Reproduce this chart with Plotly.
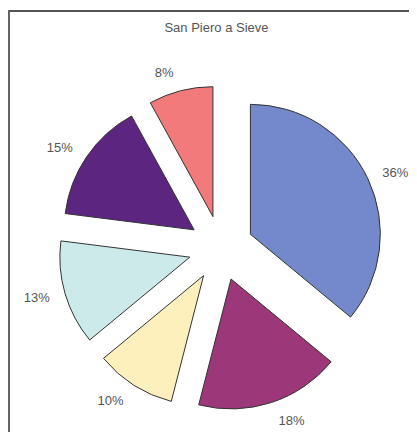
import plotly.graph_objects as go

labels = ["A", "B", "C", "D", "E", "F"]
shares = [36, 18, 10, 13, 15, 8]
colors = ["#7389CB", "#9C3779", "#FDF0BD", "#CDEAEA", "#5B2580", "#F27A7B"]

font = dict(family="Liberation Sans, Arial, sans-serif", size=13, color="#555555")

# visible exploded pie (no text)
fig = go.Figure(go.Pie(
    labels=labels,
    values=shares,
    sort=False,
    direction="clockwise",
    rotation=0,
    pull=[0.25] * len(shares),
    marker=dict(colors=colors, line=dict(color="#333333", width=1)),
    textinfo="none",
    automargin=False,
    showlegend=False,
    hoverinfo="skip",
    domain=dict(x=[0.1211, 0.9005], y=[0.0682, 0.8202]),
))

# invisible, slightly larger copy that only carries the percentage labels
fig.add_trace(go.Pie(
    labels=labels,
    values=shares,
    sort=False,
    direction="clockwise",
    rotation=0,
    pull=[0.2254] * len(shares),
    marker=dict(colors=["rgba(0,0,0,0)"] * len(shares), line=dict(width=0)),
    textinfo="percent",
    textposition="outside",
    automargin=False,
    textfont=font,
    showlegend=False,
    domain=dict(x=[0.0935, 0.9281], y=[0.0414, 0.8470]),
))

# frame around the figure (only top and left visible in the crop)
fig.add_shape(type="rect", xref="paper", yref="paper",
              x0=1 / 417, x1=1.05, y0=-0.05, y1=1 - 3 / 432,
              line=dict(color="#555555", width=1.8))

fig.update_layout(
    width=417, height=432,
    margin=dict(l=0, r=0, t=0, b=0, autoexpand=False),
    paper_bgcolor="white",
    title=dict(text="San Piero a Sieve", x=0.5, xanchor="center",
               y=1 - 19 / 432, yanchor="middle", font=font),
)

fig.write_html("out.html")
